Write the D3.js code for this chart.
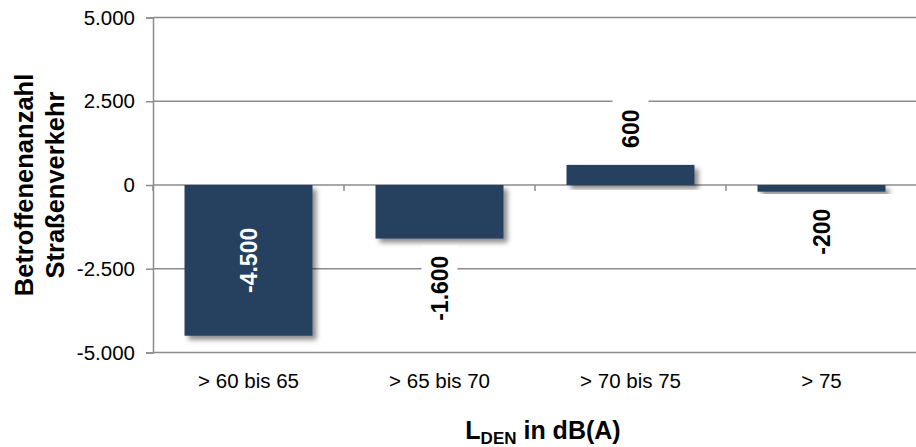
<!DOCTYPE html>
<html>
<head>
<meta charset="utf-8">
<script src="https://cdn.jsdelivr.net/npm/d3@7"></script>
<style>
  body { margin: 0; background: #fff; }
  svg { display: block; font-family: "Liberation Sans", Arial, sans-serif; }
</style>
</head>
<body>
<svg id="chart" width="916" height="447"></svg>
<script>
// data
var categories = ["> 60 bis 65", "> 65 bis 70", "> 70 bis 75", "> 75"];
var values = [-4500, -1600, 600, -200];
var yTicks = [5000, 2500, 0, -2500, -5000];
var yTitleLines = ["Betroffenenanzahl", "Straßenverkehr"];

var margin = { top: 17.5, right: 0, bottom: 94.5, left: 153 },
    width = 916 - margin.left - margin.right,
    height = 447 - margin.top - margin.bottom;

var barColor = "#264061";
var gridColor = "#8c8c8c";

var de = d3.formatLocale({ decimal: ",", thousands: ".", grouping: [3], currency: ["", " €"], minus: "-" });
var fmt = de.format(",.0f");

document.addEventListener('DOMContentLoaded', function() {
  drawChart();
});

function drawChart() {
  var svg = d3.select("#chart");

  var defs = svg.append("defs");
  var f = defs.append("filter").attr("id", "shadow")
    .attr("x", "-20%").attr("y", "-20%").attr("width", "140%").attr("height", "140%");
  f.append("feDropShadow")
    .attr("dx", 4).attr("dy", 4).attr("stdDeviation", 2.5)
    .attr("flood-color", "#000").attr("flood-opacity", 0.45);

  var g = svg.append("g")
    .attr("transform", "translate(" + margin.left + "," + margin.top + ")");

  var x = d3.scaleBand()
    .domain(categories)
    .range([0, width + 1])
    .paddingInner(0.33)
    .paddingOuter(0.165);

  var y = d3.scaleLinear()
    .domain([-5000, 5000])
    .range([height, 0]);

  // gridlines
  g.selectAll(".grid")
    .data(yTicks)
    .enter()
    .append("line")
      .attr("x1", 0)
      .attr("x2", width)
      .attr("y1", function(d) { return y(d); })
      .attr("y2", function(d) { return y(d); })
      .attr("stroke", gridColor)
      .attr("stroke-width", 1.5);

  // y axis
  var yAxis = g.append("g")
    .call(d3.axisLeft(y).tickValues(yTicks).tickFormat(fmt).tickSize(7).tickPadding(11));
  yAxis.select(".domain").attr("stroke", gridColor).attr("stroke-width", 1.5);
  yAxis.selectAll(".tick line").attr("stroke", gridColor).attr("stroke-width", 1.5);
  yAxis.selectAll(".tick text")
    .style("font-size", "20.5px")
    .style("font-family", "Liberation Sans, Arial, sans-serif")
    .attr("fill", "#000");

  // category tick marks on the zero line
  var step = x.step();
  var bounds = d3.range(categories.length + 1).map(function(i) { return i * step; });
  g.selectAll(".ctick")
    .data(bounds)
    .enter()
    .append("line")
      .attr("x1", function(d) { return d; })
      .attr("x2", function(d) { return d; })
      .attr("y1", y(0))
      .attr("y2", y(0) + 6)
      .attr("stroke", gridColor)
      .attr("stroke-width", 1.5);

  // bars
  g.selectAll(".bar")
    .data(values)
    .enter()
    .append("rect")
      .attr("x", function(d, i) { return x(categories[i]); })
      .attr("y", function(d) { return y(Math.max(0, d)); })
      .attr("width", x.bandwidth())
      .attr("height", function(d) { return Math.abs(y(d) - y(0)); })
      .attr("fill", barColor)
      .attr("filter", "url(#shadow)");

  // value labels (rotated)
  var labelSize = 23;
  var gap = 17;
  values.forEach(function(d, i) {
    var cx = x(categories[i]) + x.bandwidth() / 2;
    var txt = fmt(d);
    var tmp = g.append("text")
      .style("font-size", labelSize + "px")
      .style("font-weight", "bold")
      .text(txt);
    var len = tmp.node().getComputedTextLength();
    tmp.remove();

    var end = y(d);
    var outside, center;
    if (d >= 0) {
      center = end - gap - len / 2;
      outside = center - len / 2 > 0;
    } else {
      center = end + gap + len / 2;
      outside = center + len / 2 < height;
    }
    if (!outside) {
      center = (y(0) + end) / 2;
    } else {
      g.append("rect")
        .attr("x", cx - 18)
        .attr("y", center - len / 2 - 10)
        .attr("width", 36)
        .attr("height", len + 20)
        .attr("fill", "#fff");
    }
    g.append("text")
      .attr("transform", "translate(" + (cx + labelSize * 0.36) + "," + center + ") rotate(-90)")
      .attr("text-anchor", "middle")
      .style("font-size", labelSize + "px")
      .style("font-weight", "bold")
      .attr("fill", outside ? "#000" : "#fff")
      .text(txt);
  });

  // x axis labels
  g.selectAll(".xlab")
    .data(categories)
    .enter()
    .append("text")
      .attr("x", function(d) { return x(d) + x.bandwidth() / 2; })
      .attr("y", height + 35)
      .attr("text-anchor", "middle")
      .style("font-size", "20.5px")
      .attr("fill", "#000")
      .text(function(d) { return d; });

  // x title
  var xt = svg.append("text")
    .attr("x", 543)
    .attr("y", 439)
    .attr("text-anchor", "middle")
    .style("font-size", "25px")
    .style("font-weight", "bold")
    .attr("fill", "#000");
  xt.append("tspan").text("L");
  xt.append("tspan").attr("dy", 5).style("font-size", "17px").text("DEN");
  xt.append("tspan").attr("dy", -5).text(" in dB(A)");

  // y title
  var yt = svg.append("text")
    .attr("transform", "translate(0,185) rotate(-90)")
    .attr("text-anchor", "middle")
    .style("font-size", "25.5px")
    .style("font-weight", "bold")
    .attr("fill", "#000");
  yTitleLines.forEach(function(t, i) {
    yt.append("tspan")
      .attr("x", 0)
      .attr("y", 33 + i * 31)
      .text(t);
  });
}
</script>
</body>
</html>
